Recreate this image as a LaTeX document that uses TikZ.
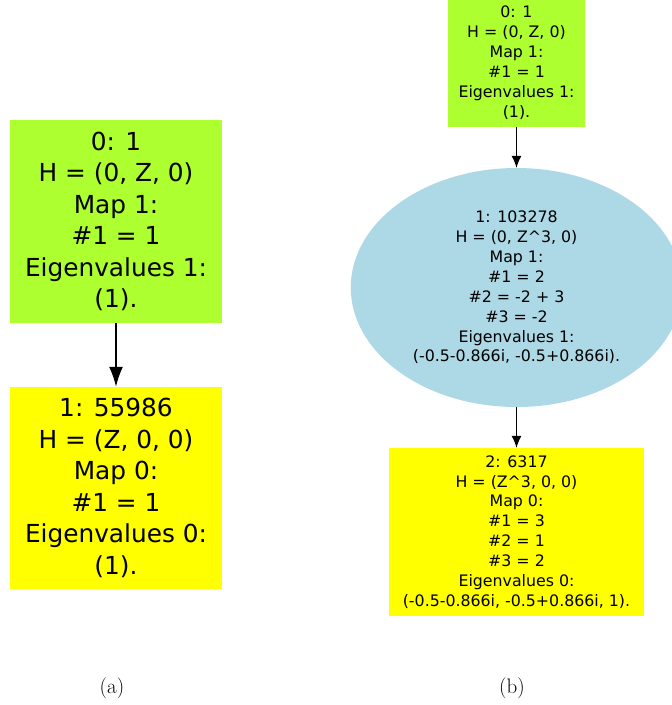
\documentclass[tikz,border=0pt]{standalone}
\usepackage{fontspec}
\newfontfamily\dejavu{DejaVu Sans}
\usetikzlibrary{arrows.meta,shapes.geometric}
\definecolor{gy}{HTML}{ADFF2F}
\definecolor{yl}{HTML}{FFFF00}
\definecolor{lb}{HTML}{ADD8E6}
\begin{document}
\begin{tikzpicture}[x=1pt,y=-1pt,
  bigtxt/.style={font=\dejavu\fontsize{24.8}{31.5}\selectfont, align=center, inner sep=0pt},
  smalltxt/.style={font=\dejavu\fontsize{15.8}{19.9}\selectfont, align=center, inner sep=0pt},
  bigedge/.style={line width=1.6pt, -{Latex[length=20pt,width=14pt]}},
  smalledge/.style={line width=1pt, -{Latex[length=12pt,width=10pt]}},
  captxt/.style={font=\fontsize{21}{25}\selectfont, inner sep=0pt}]
\useasboundingbox (0,0) rectangle (672,705);
% (a)
\node[bigtxt, fill=gy, minimum width=212pt, minimum height=203pt] (a0) at (116,221.5)
  {0: 1\\H = (0, Z, 0)\\Map 1:\\\#1 = 1\\Eigenvalues 1:\\(1).};
\node[bigtxt, fill=yl, minimum width=212pt, minimum height=202pt] (a1) at (116,488)
  {1: 55986\\H = (Z, 0, 0)\\Map 0:\\\#1 = 1\\Eigenvalues 0:\\(1).};
\draw[bigedge] (a0.south) -- (a1.north);
% (b)
\node[smalltxt, fill=gy, minimum width=137pt, minimum height=129pt] (b0) at (516.5,62.5)
  {0: 1\\H = (0, Z, 0)\\Map 1:\\\#1 = 1\\Eigenvalues 1:\\(1).};
\node[smalltxt, fill=lb, ellipse, minimum width=331.4pt, minimum height=239pt] (b1) at (516.5,287.5)
  {1: 103278\\H = (0, Z\^{}3, 0)\\Map 1:\\\#1 = 2\\\#2 = -2 + 3\\\#3 = -2\\Eigenvalues 1:\\(-0.5-0.866i, -0.5+0.866i).};
\node[smalltxt, fill=yl, minimum width=255pt, minimum height=168pt] (b2) at (516.5,532)
  {2: 6317\\H = (Z\^{}3, 0, 0)\\Map 0:\\\#1 = 3\\\#2 = 1\\\#3 = 2\\Eigenvalues 0:\\(-0.5-0.866i, -0.5+0.866i, 1).};
\draw[smalledge] (b0.south) -- (b1.north);
\draw[smalledge] (b1.south) -- (b2.north);
% captions
\node[captxt] (capa) at (112,688) {(a)};
\node[captxt] (capb) at (512,688) {(b)};
\end{tikzpicture}
\end{document}
